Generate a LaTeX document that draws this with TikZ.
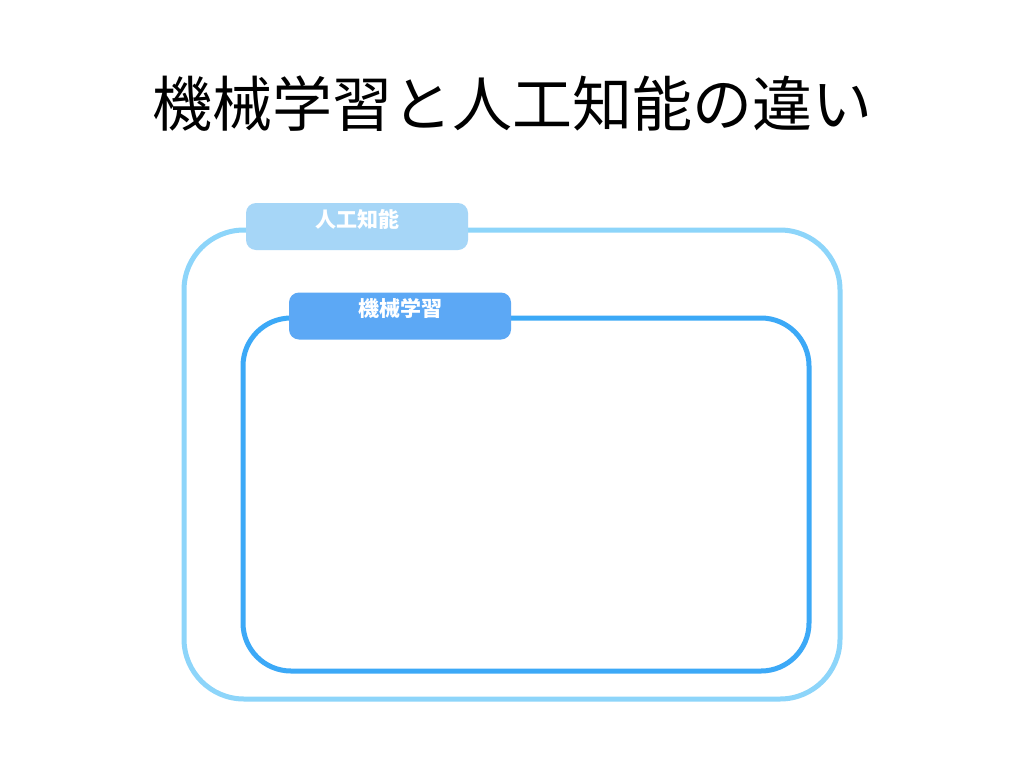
\documentclass[tikz,border=0pt]{standalone}
\usepackage{fontspec}
\newfontfamily\cjk{Noto Sans CJK JP}
\definecolor{ailine}{HTML}{8DD5FA}
\definecolor{aifill}{HTML}{A6D6F7}
\definecolor{mlline}{HTML}{3CA9F7}
\definecolor{mlfill}{HTML}{5CA8F5}
\begin{document}
\begin{tikzpicture}[x=1pt,y=-1pt,
		frame/.style={draw, line width=5pt, rectangle, inner sep=0pt},
		tag/.style={rectangle, rounded corners=10pt, minimum width=222pt, minimum height=47pt, inner sep=0pt, text height=15pt, text depth=14pt, text=white, font=\cjk\bfseries\fontsize{21}{21}\selectfont}]
	\useasboundingbox[fill=white] (0,0) rectangle (1024,768);
	\node[font=\cjk\fontsize{60}{60}\selectfont] (title) at (512,104) {機械学習と人工知能の違い};
	% outer and inner frames
	\node[frame, draw=ailine, rounded corners=60pt, minimum width=656pt, minimum height=469pt] (aiframe) at (512,464.5) {};
	\node[frame, draw=mlline, rounded corners=48pt, minimum width=566pt, minimum height=353pt] (mlframe) at (526,494.5) {};
	% tags
	\node[tag, fill=aifill] (aitag) at (357,226.5) {人工知能};
	\node[tag, fill=mlfill] (mltag) at (400,316) {機械学習};
\end{tikzpicture}
\end{document}
